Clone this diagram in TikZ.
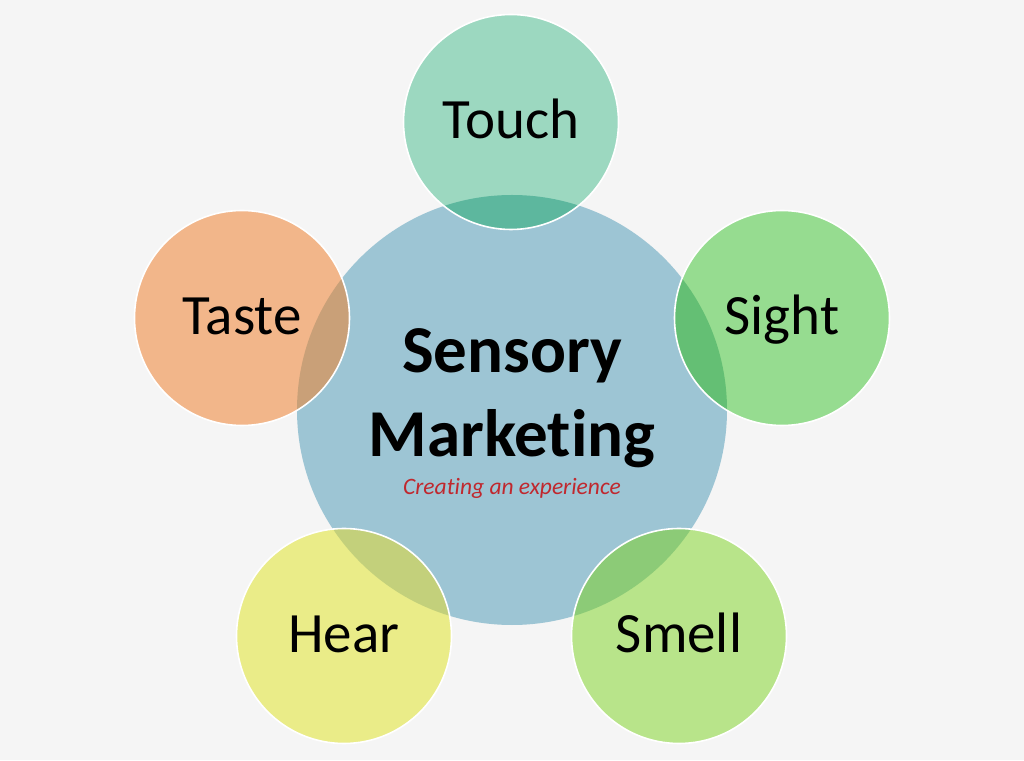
\documentclass[tikz,border=0pt]{standalone}
\usepackage{fontspec}
\setmainfont{Carlito}[Ligatures=NoCommon]
\usepackage{tikz}
\usetikzlibrary{positioning}
\definecolor{paper}{HTML}{F5F5F5}
\definecolor{hubblue}{HTML}{9DC5D4}
\definecolor{touchc}{HTML}{9CD8C0}
\definecolor{touchdk}{HTML}{5DB79E}
\definecolor{sightc}{HTML}{96DC90}
\definecolor{sightdk}{HTML}{64BF74}
\definecolor{tastec}{HTML}{F2B68A}
\definecolor{tastedk}{HTML}{C9A078}
\definecolor{hearc}{HTML}{EAEC88}
\definecolor{heardk}{HTML}{C3D07B}
\definecolor{smellc}{HTML}{B8E48A}
\definecolor{smelldk}{HTML}{8CCB77}
\definecolor{tagred}{HTML}{C0282E}
\tikzset{
  hub/.style={circle,fill=hubblue,minimum size=430pt,inner sep=0pt},
  sense/.style 2 args={circle,fill=#1,draw=white,line width=1.6pt,
    minimum size=215pt,inner sep=0pt,text height=33pt,text depth=0pt,
    font=\fontsize{57}{60}\selectfont,
    path picture={\fill[#2] (hub.center) circle[radius=215pt];}},
  title/.style={align=center,font=\fontsize{67}{84}\selectfont\bfseries},
  tagline/.style={text=tagred,font=\fontsize{23.5}{26}\selectfont\itshape}
}
\begin{document}
\begin{tikzpicture}[x=1pt,y=1pt]
\fill[paper] (0,0) rectangle (1024,760);
\useasboundingbox (0,0) rectangle (1024,760);
\node[hub] (hub) at (512,350) {};
\node[sense={touchc}{touchdk}] (touch) at (511,638) {Touch};
\node[sense={sightc}{sightdk}] (sight) at (782,442) {Sight};
\node[sense={tastec}{tastedk}] (taste) at (242,442) {Taste};
\node[sense={hearc}{heardk}] (hear) at (344,124) {Hear};
\node[sense={smellc}{smelldk}] (smell) at (679,124) {Smell};
\node[title,anchor=base] (title) at (512,303) {Sensory\\Marketing};
\node[tagline,anchor=base] (tag) at (512,265) {Creating an experience};
\end{tikzpicture}
\end{document}
